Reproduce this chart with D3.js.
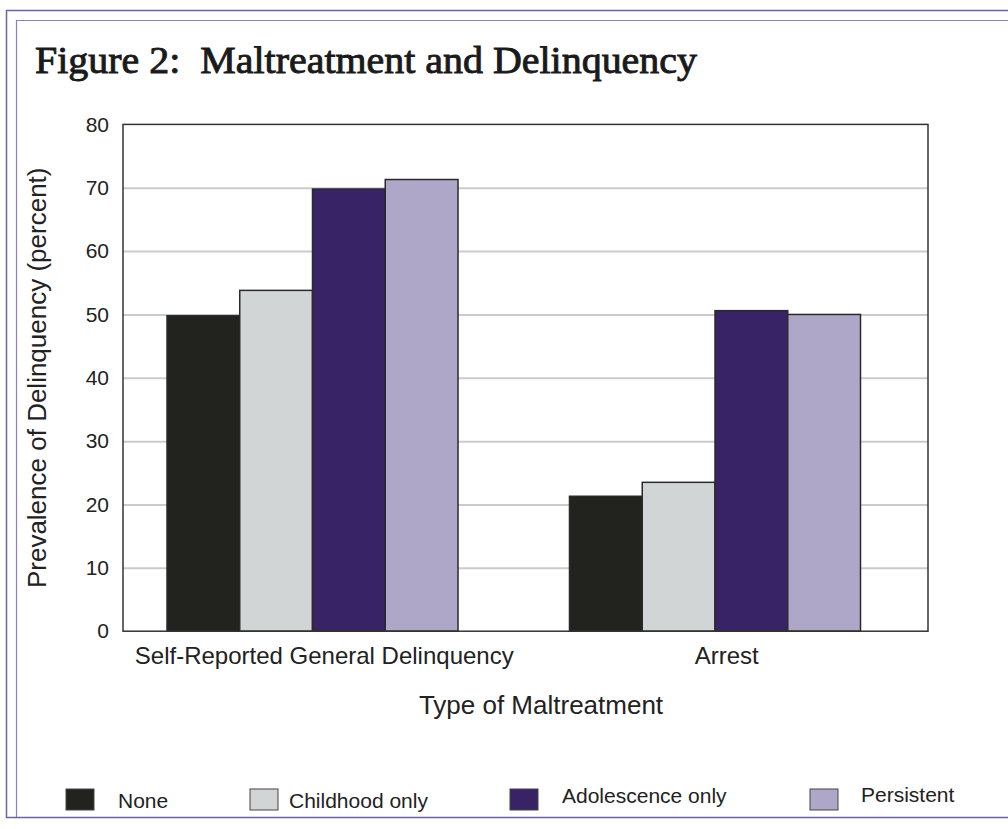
<!DOCTYPE html>
<html>
<head>
<meta charset="utf-8">
<script src="https://cdn.jsdelivr.net/npm/d3@7"></script>
<style>
  html, body { margin: 0; padding: 0; background: #fff; }
  svg { display: block; }
</style>
</head>
<body>
<svg id="chart" width="1008" height="829"></svg>
<script>
// ---- data ----
const categories = ["Self-Reported General Delinquency", "Arrest"];
const series = ["None", "Childhood only", "Adolescence only", "Persistent"];
const valuesSelfReported = [49.8, 53.8, 69.8, 71.3];
const valuesArrest = [21.3, 23.5, 50.6, 50.0];
const yTicks = [0, 10, 20, 30, 40, 50, 60, 70, 80];
const colors = ["#22231e", "#d2d5d6", "#382366", "#afa7c8"];

const dataRows = categories.map((c, i) => ({
  category: c,
  values: (i === 0 ? valuesSelfReported : valuesArrest)
}));

const svg = d3.select("#chart");
const sans = "Liberation Sans, Arial, Helvetica, sans-serif";

// page frame
const frameColor = "#6f62a3";
svg.append("path")
  .attr("d", "M1010,10.5 H6.5 V817.5 H1010")
  .attr("fill", "none").attr("stroke", frameColor).attr("stroke-width", 1.5);
svg.append("path")
  .attr("d", "M1010,20.5 H16.5 V817.5")
  .attr("fill", "none").attr("stroke", frameColor).attr("stroke-width", 1.2)
  .attr("stroke-opacity", 0.8);

// title
svg.append("text")
  .attr("x", 35).attr("y", 73)
  .attr("font-family", "Liberation Serif, serif")
  .attr("font-size", 38)
  .attr("fill", "#1a1a1a")
  .attr("stroke", "#1a1a1a")
  .attr("stroke-width", 0.9)
  .attr("textLength", 662)
  .attr("lengthAdjust", "spacingAndGlyphs")
  .attr("xml:space", "preserve")
  .text("Figure 2:  Maltreatment and Delinquency");

// plot area
const plot = { left: 123, right: 928, top: 124.4, bottom: 631.2 };

const y = d3.scaleLinear().domain([0, 80]).range([plot.bottom, plot.top]);

// bar groups
const x0 = d3.scaleBand()
  .domain(categories)
  .range([111.25, 916.25])
  .paddingInner(0.277)
  .paddingOuter(0.1385);

// category label positions (halves of the plot frame)
const xLabel = d3.scaleBand()
  .domain(categories)
  .range([plot.left, plot.right]);

const x1 = d3.scaleBand()
  .domain(series)
  .range([0, x0.bandwidth()])
  .padding(0);

const color = d3.scaleOrdinal().domain(series).range(colors);

// gridlines
svg.append("g")
  .attr("transform", `translate(${plot.left},0)`)
  .call(d3.axisLeft(y).tickValues(yTicks.filter(t => t > 0 && t < 80))
        .tickSize(-(plot.right - plot.left)).tickFormat(""))
  .call(g => g.select(".domain").remove())
  .call(g => g.selectAll("line").attr("stroke", "#c9cccc").attr("stroke-width", 2));

// bars
const groups = svg.append("g").selectAll("g")
  .data(dataRows).join("g")
  .attr("transform", d => `translate(${x0(d.category)},0)`);

groups.selectAll("rect")
  .data(d => d.values.map((v, i) => ({ key: series[i], value: v })))
  .join("rect")
  .attr("x", d => x1(d.key))
  .attr("width", x1.bandwidth())
  .attr("y", d => y(d.value))
  .attr("height", d => y(0) - y(d.value))
  .attr("fill", d => color(d.key))
  .attr("stroke", "#2a2a2a")
  .attr("stroke-width", 1.5);

// plot frame
svg.append("rect")
  .attr("x", plot.left).attr("y", plot.top)
  .attr("width", plot.right - plot.left)
  .attr("height", plot.bottom - plot.top)
  .attr("fill", "none")
  .attr("stroke", "#333")
  .attr("stroke-width", 1.5);

// y axis labels
svg.append("g")
  .attr("transform", `translate(${plot.left},0)`)
  .call(d3.axisLeft(y).tickValues(yTicks).tickSize(0).tickPadding(14))
  .call(g => g.select(".domain").remove())
  .call(g => g.selectAll("text")
    .attr("font-family", sans)
    .attr("font-size", 21)
    .attr("fill", "#222"));

// x category labels
svg.append("g")
  .selectAll("text")
  .data(categories).join("text")
  .attr("x", d => xLabel(d) + xLabel.bandwidth() / 2)
  .attr("y", 664)
  .attr("text-anchor", "middle")
  .attr("font-family", sans)
  .attr("font-size", 24)
  .attr("fill", "#222")
  .text(d => d);

// axis titles
svg.append("text")
  .attr("transform", `translate(46,${(plot.top + plot.bottom) / 2}) rotate(-90)`)
  .attr("text-anchor", "middle")
  .attr("font-family", sans)
  .attr("font-size", 26)
  .attr("fill", "#222")
  .text("Prevalence of Delinquency (percent)");

svg.append("text")
  .attr("x", 541).attr("y", 714)
  .attr("text-anchor", "middle")
  .attr("font-family", sans)
  .attr("font-size", 26)
  .attr("fill", "#222")
  .text("Type of Maltreatment");

// legend
const legendSwatchX = [66, 250, 510, 810];
const legendTextX = [118, 289, 562, 861];
const legendTextY = [808, 808, 803, 802];
const legend = svg.append("g");
series.forEach((s, i) => {
  legend.append("rect")
    .attr("x", legendSwatchX[i]).attr("y", 789)
    .attr("width", 28).attr("height", 21)
    .attr("fill", color(s))
    .attr("stroke", "#444").attr("stroke-width", 1);
  legend.append("text")
    .attr("x", legendTextX[i]).attr("y", legendTextY[i])
    .attr("font-family", sans)
    .attr("font-size", 21)
    .attr("fill", "#222")
    .text(s);
});
</script>
</body>
</html>
